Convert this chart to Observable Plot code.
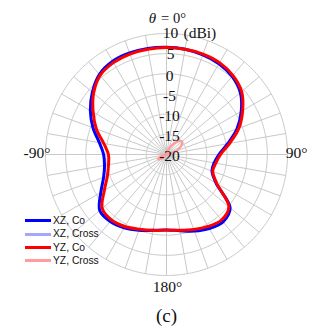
<!DOCTYPE html>
<html><head><meta charset="utf-8">
<script src="https://cdn.jsdelivr.net/npm/d3@7"></script>
<script src="https://cdn.jsdelivr.net/npm/@observablehq/plot@0.6"></script>
<style>
body{margin:0;background:#fff;}
#wrap{position:relative;width:320px;height:333px;overflow:hidden;}
#legend{position:absolute;left:25px;top:214px;font:10.3px "Liberation Sans",Arial,sans-serif;color:#111;line-height:13.4px;}
#legend div{display:flex;align-items:center;}
#legend span.sw{display:inline-block;width:26px;height:3px;margin-right:2px;}
</style></head><body><div id="wrap"></div>
<script>
// angle (deg, clockwise from broadside theta=0)
const angles = [0,10,20,30,40,50,60,70,80,90,100,110,120,130,140,150,160,170,180,190,200,210,220,230,240,250,260,270,280,290,300,310,320,330,340,350];
const xzCo = [6.6,6.5,6.3,6.0,5.3,3.9,1.4,-1.4,-4.6,-7.0,-8.0,-8.0,-5.8,0.6,1.8,1.2,0.2,-0.8,-1.3,-0.9,0.0,1.0,1.7,1.6,-1.2,-3.4,-4.4,-4.4,-3.1,-0.6,1.8,4.0,5.9,6.7,6.8,6.7];
const yzCo = [6.5,6.5,6.5,6.3,5.6,4.3,1.8,-0.9,-4.1,-6.6,-7.6,-7.8,-5.6,0.2,1.2,0.6,-0.2,-0.9,-1.3,-0.9,-0.3,0.6,1.2,0.8,-2.2,-4.4,-5.4,-5.6,-4.2,-1.5,1.0,3.6,5.6,6.3,6.5,6.5];
const xzCross = [-22,-22,-21,-20.5,-20,-19.6,-20,-21,-22,-23,-24,-24,-24,-24,-24,-24,-24,-24,-24,-24,-24,-24,-23,-22,-21,-21,-22,-23,-24,-24,-24,-24,-24,-23,-23,-22];
const yzCross = [-21,-20,-18.8,-17.4,-15.8,-15.0,-15.8,-17.4,-19.5,-21,-22,-23,-23,-23,-23,-23,-23,-23,-23,-23,-23,-22,-20.5,-18.6,-17.6,-18.6,-20.5,-22,-23,-23,-23,-23,-23,-23,-22,-21.5];
const seriesNames = ["XZ, Co","XZ, Cross","YZ, Co","YZ, Cross"];
const seriesColors = ["#0000ff","#a6a6ff","#ff0000","#ff9c9c"];
const seriesWidths = [3,2.4,3,2.4];
const ringValues = [-15,-10,-5,0,5,10];
const ringLabelsTop = ["10","5"];
const ringLabelValuesTop = [10,5];
const ringLabels = ["0","-5","-10","-15","-20"];
const ringLabelValues = [0,-5,-10,-15,-20];
const spokeAngles = [0,10,20,30,40,50,60,70,80,90,100,110,120,130,140,150,160,170,180,190,200,210,220,230,240,250,260,270,280,290,300,310,320,330,340,350];

const rMin = -20, rMax = 10;
const rOf = v => Math.max(v, rMin) - rMin;        // dB -> angular distance from pole
const lat = v => 90 - rOf(v);
const lon = a => 180 - a;

const allSeries = [xzCo, xzCross, yzCo, yzCross];
const rows = [];
allSeries.forEach((vals, s) => vals.forEach((v, i) => rows.push({s: seriesNames[s], a: angles[i], v})));
const drawOrder = ["XZ, Cross","YZ, Cross","XZ, Co","YZ, Co"];

const serif = "'Liberation Serif','Times New Roman',serif";
const chart = Plot.plot({
  width: 320, height: 333,
  marginLeft: 45, marginRight: 33, marginTop: 33, marginBottom: 58,
  projection: {type: "azimuthal-equidistant", rotate: [0, -90],
    domain: d3.geoCircle().center([0, 90]).radius(rMax - rMin)()},
  style: {fontFamily: serif, background: "white"},
  marks: [
    Plot.geo(ringValues, {geometry: v => d3.geoCircle().center([0, 90]).radius(rOf(v)).precision(1)(), stroke: "#c9c9c9", strokeWidth: 1, fill: "none"}),
    Plot.link(spokeAngles, {x1: a => lon(a), y1: 90, x2: a => lon(a), y2: lat(rMax), stroke: "#c9c9c9", strokeWidth: 1}),
    ...drawOrder.map(name => {
      const k = seriesNames.indexOf(name);
      return Plot.line(rows.filter(d => d.s === name), {x: d => lon(d.a), y: d => lat(d.v), stroke: seriesColors[k], strokeWidth: seriesWidths[k], curve: "catmull-rom-closed"});
    }),
    Plot.text(ringLabelValuesTop, {x: lon(0), y: v => lat(v), text: (v, i) => ringLabelsTop[i], dx: 4, dy: 0, fontSize: 15.5, fill: "#111", textAnchor: "middle"}),
    Plot.text(ringLabelValues, {x: lon(0), y: v => lat(v), text: (v, i) => ringLabels[i], dx: 3, dy: 2, fontSize: 15.5, fill: "#111", textAnchor: "middle"}),
    Plot.text([rMax], {x: lon(0), y: v => lat(v), text: () => "(dBi)", dx: 17, dy: 0, fontSize: 15.5, fill: "#111", textAnchor: "start"}),
    Plot.text(["θ"], {frameAnchor: "top", dx: -14, dy: -21, fontSize: 15, fontStyle: "italic", fill: "#111"}),
    Plot.text(["= 0°"], {frameAnchor: "top", dx: 7, dy: -21, fontSize: 14.5, fill: "#111"}),
    Plot.text(["-90°"], {frameAnchor: "left", dx: -22, dy: -1, fontSize: 15.5, fill: "#111"}),
    Plot.text(["90°"], {frameAnchor: "right", dx: 20, dy: -1, fontSize: 15.5, fill: "#111"}),
    Plot.text(["180°"], {frameAnchor: "bottom", dx: 1, dy: 16, fontSize: 15.5, fill: "#111"}),
    Plot.text(["(c)"], {frameAnchor: "bottom", dx: 0, dy: 46, fontSize: 19, fill: "#111"})
  ]
});
const wrap = document.getElementById("wrap");
wrap.appendChild(chart);
const leg = document.createElement("div");
leg.id = "legend";
seriesNames.forEach((n, i) => {
  const row = document.createElement("div");
  row.innerHTML = `<span class="sw" style="background:${seriesColors[i]}"></span><span>${n}</span>`;
  leg.appendChild(row);
});
wrap.appendChild(leg);
</script></body></html>
